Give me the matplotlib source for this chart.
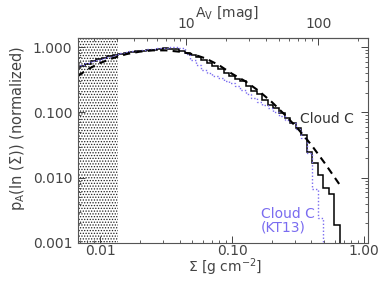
import numpy as np
import matplotlib
matplotlib.use("Agg")
import matplotlib.pyplot as plt

font = {'family': 'DejaVu Sans', 'weight': 'normal', 'size': 10}
matplotlib.rc('font', **font)
matplotlib.rc('hatch', linewidth=0.6)

# log10(Sigma) bin edges shared by both histograms
log_edges = [-2.198, -2.156, -2.114, -2.072, -2.030, -1.988, -1.946, -1.904,
             -1.862, -1.820, -1.778, -1.736, -1.694, -1.652, -1.610, -1.568,
             -1.526, -1.484, -1.442, -1.400, -1.358, -1.316, -1.274, -1.232,
             -1.190, -1.148, -1.106, -1.064, -1.022, -0.980, -0.938, -0.896,
             -0.854, -0.812, -0.770, -0.728, -0.686, -0.644, -0.602, -0.560,
             -0.518, -0.476, -0.434, -0.392, -0.350, -0.308, -0.266, -0.224,
             -0.182]

# Cloud C histogram (solid)
cloud_c = [0.47, 0.51, 0.55, 0.61, 0.65, 0.69, 0.72, 0.75,
           0.78, 0.81, 0.84, 0.86, 0.88, 0.89, 0.91, 0.94,
           0.97, 0.95, 0.92, 0.86, 0.80, 0.75, 0.70, 0.64,
           0.57, 0.51, 0.46, 0.40, 0.36, 0.32, 0.30, 0.25,
           0.21, 0.19, 0.155, 0.13, 0.115, 0.097, 0.082, 0.068,
           0.058, 0.045, 0.025, 0.0165, 0.011, 0.0069, 0.0057, 0.0019]

# Cloud C (KT13) histogram (dotted), stops earlier
cloud_c_kt13 = [0.51, 0.54, 0.57, 0.61, 0.64, 0.68, 0.71, 0.76,
                0.81, 0.84, 0.86, 0.88, 0.90, 0.92, 0.94, 0.96,
                0.98, 0.99, 0.99, 0.97, 0.78, 0.64, 0.53, 0.45,
                0.40, 0.36, 0.33, 0.30, 0.28, 0.25, 0.22, 0.19,
                0.165, 0.145, 0.13, 0.115, 0.10, 0.088, 0.077, 0.068,
                0.055, 0.040, 0.024, 0.0068, 0.0024]

# lognormal fit (dashed)
fit_logsig = [-2.167, -2.1, -2.0, -1.9, -1.8, -1.7, -1.6, -1.5, -1.4, -1.3, -1.2,
              -1.1, -1.0, -0.9, -0.8, -0.7, -0.6, -0.5, -0.4, -0.3, -0.182]
fit_p = [0.36, 0.45, 0.57, 0.68, 0.78, 0.85, 0.89, 0.89, 0.85, 0.78, 0.67,
         0.53, 0.39, 0.30, 0.215, 0.145, 0.092, 0.056, 0.032, 0.017, 0.0077]

completeness_limit = 0.0137   # g cm^-2
av_per_sigma = 222.0          # mag per g cm^-2

blue = '#7a6cf0'
grey = '#444444'

fig = plt.figure(figsize=(3.88, 2.91), dpi=100)
ax = fig.add_axes([0.201, 0.165, 0.747, 0.704])

edges = 10 ** np.array(log_edges)
ax.axvspan(0.001, completeness_limit, facecolor='none', edgecolor='#222222',
           hatch='......', linewidth=0)
ax.stairs(cloud_c, edges, baseline=1e-5, color='black', lw=1.1)
ax.stairs(cloud_c_kt13, edges[:len(cloud_c_kt13) + 1], baseline=1e-5,
          color=blue, lw=1.0, ls=(0, (1, 1.5)))
ax.plot(10 ** np.array(fit_logsig), fit_p, color='black', lw=1.5,
        ls=(0, (3.5, 2.5)))

ax.set_xscale('log')
ax.set_yscale('log')
ax.set_xlim(0.0068, 1.07)
ax.set_ylim(0.001, 1.37)

ax.set_xticks([0.01, 0.1, 1.0])
ax.set_xticklabels(['0.01', '0.10', '1.00'])
ax.set_yticks([0.001, 0.01, 0.1, 1.0])
ax.set_yticklabels(['0.001', '0.010', '0.100', '1.000'])

ax.tick_params(which='both', direction='in', colors=grey, labelsize=10)
ax.tick_params(which='major', length=5, width=0.7)
ax.tick_params(which='minor', length=2.5, width=0.6)
ax.tick_params(axis='x', which='both', top=False, pad=0.5)
ax.tick_params(axis='y', which='both', right=True, pad=4)
for s in ax.spines.values():
    s.set_color('#555555')
    s.set_linewidth(0.8)

secax = ax.secondary_xaxis('top', functions=(lambda s: s * av_per_sigma,
                                             lambda a: a / av_per_sigma))
secax.set_xticks([10, 100])
secax.set_xticklabels(['10', '100'])
secax.tick_params(which='both', direction='in', colors=grey, labelsize=10)
secax.tick_params(which='major', length=5, width=0.7, pad=5)
secax.tick_params(which='minor', length=2.5, width=0.6)
secax.spines['top'].set_color('#555555')

fig.text(227 / 388, 1 - 13 / 291, r'A$_\mathrm{V}$ [mag]', color=grey,
         fontsize=10, ha='center', va='center')
fig.text(225 / 388, 1 - 267 / 291, r'$\Sigma$ [g cm$^{-2}$]', color=grey,
         fontsize=10, ha='center', va='center')
fig.text(18 / 388, 1 - 128 / 291, r'p$_\mathrm{A}$(ln ($\Sigma$)) (normalized)',
         color=grey, fontsize=10.5, ha='center', va='center', rotation=90)

ax.text(0.33, 0.079, 'Cloud C', color='#333333', fontsize=10,
        ha='left', va='center')
ax.text(0.166, 0.0022, 'Cloud C\n(KT13)', color=blue, fontsize=10,
        ha='left', va='center', linespacing=1.0)

fig.savefig('out.png', dpi=100)
